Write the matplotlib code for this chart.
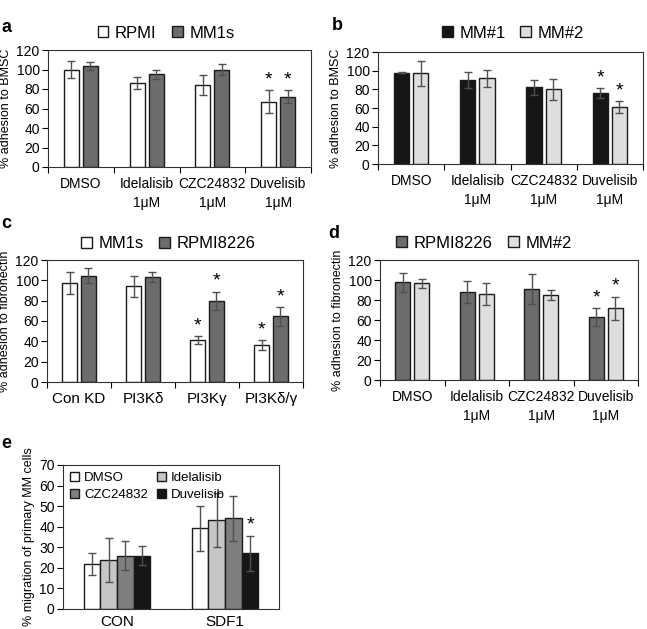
import matplotlib
matplotlib.use("Agg")
import matplotlib.pyplot as plt
import numpy as np

plt.rcParams['font.family'] = ['Liberation Sans', 'DejaVu Sans']

W, H = 647, 629

# ---- data ----
drug_cats = ["DMSO", "Idelalisib\n1\u03bcM", "CZC24832\n1\u03bcM", "Duvelisib\n1\u03bcM"]

a_series = ["RPMI", "MM1s"]
a_rpmi = [100, 86, 84, 67]
a_rpmi_err = [9, 6, 10, 12]
a_mm1s = [104, 95, 100, 72]
a_mm1s_err = [4, 4.5, 6, 6.5]
a_star = [[False, False, False, True], [False, False, False, True]]

b_series = ["MM#1", "MM#2"]
b_mm1 = [98, 90, 82, 76]
b_mm1_err = [1, 9, 8, 5]
b_mm2 = [97, 92, 80, 61]
b_mm2_err = [13, 9, 11, 6.5]
b_star = [[False, False, False, True], [False, False, False, True]]

c_cats = ["Con KD", "PI3K\u03b4", "PI3K\u03b3", "PI3K\u03b4/\u03b3"]
c_series = ["MM1s", "RPMI8226"]
c_mm1s = [97.5, 94, 41, 36.5]
c_mm1s_err = [11, 10, 4, 5]
c_rpmi = [104.5, 103, 80, 64.5]
c_rpmi_err = [7.5, 5, 9, 9]
c_star = [[False, False, True, True], [False, False, True, True]]

d_series = ["RPMI8226", "MM#2"]
d_rpmi = [98, 88, 91, 63]
d_rpmi_err = [9.5, 11, 15, 9]
d_mm2 = [97, 86, 85, 72]
d_mm2_err = [4.5, 11, 5, 11.5]
d_star = [[False, False, False, True], [False, False, False, True]]

e_cats = ["CON", "SDF1"]
e_series = ["DMSO", "Idelalisib", "CZC24832", "Duvelisib"]
e_dmso = [22, 39.3]
e_dmso_err = [5.3, 11]
e_idel = [23.6, 43.3]
e_idel_err = [10.7, 13.2]
e_czc = [26, 44]
e_czc_err = [7, 11]
e_duv = [26, 27]
e_duv_err = [4.5, 8.6]
e_star = [[False, False], [False, False], [False, False], [False, True]]

WHITE = "#ffffff"
DARK = "#6c6c6c"
BLACK = "#161616"
LIGHT = "#dedede"
MID = "#c6c6c6"
MIDDARK = "#7f7f7f"
ERRC = "#505050"

fig = plt.figure(figsize=(W / 100, H / 100), dpi=100)


def px_axes(x0, y0, x1, y1):
    return fig.add_axes([x0 / W, 1 - y1 / H, (x1 - x0) / W, (y1 - y0) / H])


def style_axes(ax, ncat, ymax, ystep, cats, xfs=10):
    ax.set_xlim(0, ncat)
    ax.set_ylim(0, ymax)
    ax.set_yticks(np.arange(0, ymax + 1, ystep))
    ax.tick_params(axis='y', direction='out', length=4, width=0.8, labelsize=10, pad=2)
    ax.set_xticks(np.arange(ncat) + 0.5)
    ax.set_xticklabels(cats, fontsize=xfs, linespacing=1.45)
    ax.tick_params(axis='x', which='major', length=0, pad=7)
    ax.set_xticks(np.arange(ncat + 1), minor=True)
    ax.tick_params(axis='x', which='minor', direction='out', length=4, width=0.8)
    for s in ax.spines.values():
        s.set_linewidth(0.8)
        s.set_color("#333333")


def grouped(ax, vals, errs, colors, labels, stars, width, step, ymax, star_fs=14):
    n = len(vals)
    ncat = len(vals[0])
    x = np.arange(ncat) + 0.5
    handles = []
    for i in range(n):
        xi = x + (i - (n - 1) / 2) * step
        h = ax.bar(xi, vals[i], width=width, color=colors[i], edgecolor="#1a1a1a",
                   linewidth=1.0, label=labels[i], zorder=2)
        ax.errorbar(xi, vals[i], yerr=errs[i], fmt='none', ecolor=ERRC,
                    elinewidth=1.0, capsize=3, capthick=1.0, zorder=3)
        handles.append(h)
        for j in range(ncat):
            if stars[i][j]:
                ax.text(xi[j], vals[i][j] + errs[i][j] + ymax * 0.015, "*",
                        ha='center', va='bottom', fontsize=star_fs)
    return handles


def top_legend(ax, handles, labels, cx, cy):
    fig.legend(handles, labels, loc='center', bbox_to_anchor=(cx / W, 1 - cy / H),
               ncol=len(labels), frameon=False, fontsize=12, handlelength=0.65,
               handleheight=0.65, handletextpad=0.4, columnspacing=0.9)


YFS = 9

# ---- panel a ----
ax = px_axes(48, 50, 311, 167)
style_axes(ax, 4, 120, 20, drug_cats)
hs = grouped(ax, [a_rpmi, a_mm1s], [a_rpmi_err, a_mm1s_err], [WHITE, DARK],
             a_series, a_star, 0.23, 0.29, 120)
ax.set_ylabel("% adhesion to BMSC", fontsize=YFS, labelpad=3)
top_legend(ax, hs, a_series, 166, 33)
fig.text(1 / W, 1 - 27 / H, "a", fontsize=13, fontweight='bold', va='center')

# ---- panel b ----
ax = px_axes(378, 52, 643, 164)
style_axes(ax, 4, 120, 20, drug_cats)
hs = grouped(ax, [b_mm1, b_mm2], [b_mm1_err, b_mm2_err], [BLACK, LIGHT],
             b_series, b_star, 0.23, 0.29, 120)
ax.set_ylabel("% adhesion to BMSC", fontsize=YFS, labelpad=3)
top_legend(ax, hs, b_series, 513, 33)
fig.text(332 / W, 1 - 25 / H, "b", fontsize=13, fontweight='bold', va='center')

# ---- panel c ----
ax = px_axes(47, 260, 303, 382)
style_axes(ax, 4, 120, 20, c_cats, xfs=11)
hs = grouped(ax, [c_mm1s, c_rpmi], [c_mm1s_err, c_rpmi_err], [WHITE, DARK],
             c_series, c_star, 0.23, 0.29, 120)
ax.set_ylabel("% adhesion to fibronectin", fontsize=YFS, labelpad=3)
top_legend(ax, hs, c_series, 168, 244)
fig.text(1 / W, 1 - 224 / H, "c", fontsize=13, fontweight='bold', va='center')

# ---- panel d ----
ax = px_axes(380, 260, 638, 380)
style_axes(ax, 4, 120, 20, drug_cats)
hs = grouped(ax, [d_rpmi, d_mm2], [d_rpmi_err, d_mm2_err], [DARK, LIGHT],
             d_series, d_star, 0.23, 0.29, 120)
ax.set_ylabel("% adhesion to fibronectin", fontsize=YFS, labelpad=3)
top_legend(ax, hs, d_series, 484, 243)
fig.text(328 / W, 1 - 234 / H, "d", fontsize=13, fontweight='bold', va='center')

# ---- panel e ----
ax = px_axes(63, 465, 279, 609)
style_axes(ax, 2, 70, 10, e_cats, xfs=11)
ax.tick_params(axis='x', which='minor', length=0)
ax.tick_params(axis='x', which='major', pad=4)
hs = grouped(ax, [e_dmso, e_idel, e_czc, e_duv],
             [e_dmso_err, e_idel_err, e_czc_err, e_duv_err],
             [WHITE, MID, MIDDARK, BLACK], e_series, e_star, 0.155, 0.155, 70)
ax.set_ylabel("% migration of primary MM cells", fontsize=YFS, labelpad=3)
order = [0, 2, 1, 3]
ax.legend([hs[i] for i in order], [e_series[i] for i in order], loc='upper left',
          ncol=2, frameon=False, fontsize=9.5, handlelength=0.7, handleheight=0.7,
          handletextpad=0.35, columnspacing=0.7, borderaxespad=0.15, labelspacing=0.35)
fig.text(1 / W, 1 - 443 / H, "e", fontsize=13, fontweight='bold', va='center')

fig.savefig("out.png", dpi=100)
